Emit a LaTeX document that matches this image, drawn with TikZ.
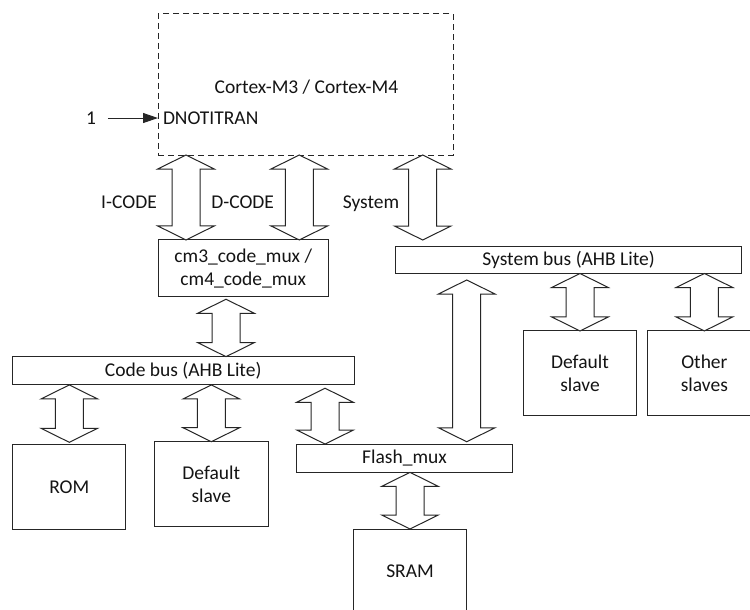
\documentclass[tikz,border=0pt]{standalone}
\usepackage{fontspec}
\setmainfont{Carlito}
\usetikzlibrary{calc,arrows.meta}
\definecolor{linec}{RGB}{38,38,38}
\definecolor{txtc}{RGB}{20,20,20}
\tikzset{
  box/.style={draw=linec, line width=1pt, rectangle, outer sep=0pt, inner sep=0pt,
    align=center, text=txtc, font=\fontsize{19.5pt}{23pt}\selectfont},
  lbl/.style={inner sep=0pt, outer sep=0pt, text=txtc, anchor=base,
    font=\fontsize{19.5pt}{23pt}\selectfont},
  busarr/.style={draw=linec, line width=1pt, fill=white, line join=miter},
  sigarr/.style={draw=linec, line width=1pt, -{Triangle[length=15pt,width=10pt]}},
  cpu/.style={box, dash pattern=on 6pt off 4pt},
}
% hollow double-headed bus arrow: x and top from #1, bottom from #2
\newcommand\bigarrow[2]{%
  \draw[busarr] let \p1=#1, \p2=#2 in
    (\x1,\y1) -- ++(28.3pt,-14pt) -- ++(-14.3pt,0pt)
    -- (\x1+14pt,\y2+14pt) -- ++(14.3pt,0pt) -- (\x1,\y2)
    -- ++(-28.3pt,14pt) -- ++(14.3pt,0pt)
    -- (\x1-14pt,\y1-14pt) -- ++(-14.3pt,0pt) -- cycle;}
\begin{document}
\begin{tikzpicture}[x=1pt,y=-1pt]
\useasboundingbox (0,0) rectangle (750,610);
\clip (0,0) rectangle (750,610);
\fill[white] (0,0) rectangle (750,610);

% processor
\node[cpu, minimum width=295pt, minimum height=141pt] (cortex) at (305.5,84.5) {};
\node[lbl] (ctitle) at (306.5,93) {Cortex-M3 / Cortex-M4};
\node[lbl, anchor=base west] (dnot) at (163,124.3) {DNOTITRAN};
\node[lbl] (one) at (91,124.3) {1};
\draw[sigarr, shorten <=12pt] (one.east) -- (one.east -| cortex.west);

% bus labels
\node[lbl] (licode) at (129,208) {I-CODE};
\node[lbl] (ldcode) at (242.7,208) {D-CODE};
\node[lbl] (lsys) at (371,208) {System};

% boxes
\node[box, minimum width=170pt, minimum height=56.7pt] (cm3mux) at (243.3,268.3)
  {cm3\_code\_mux /\\cm4\_code\_mux};
\node[box, minimum width=341.7pt, minimum height=28.3pt] (codebus) at (183.2,370.8)
  {Code bus (AHB Lite)};
\node[box, minimum width=346.2pt, minimum height=26.8pt] (sysbus) at (568.6,260.1)
  {System bus (AHB Lite)};
\node[box, minimum width=113.3pt, minimum height=85pt] (rom) at (69.3,486.8) {ROM};
\node[box, minimum width=114pt, minimum height=85pt] (cdef) at (211.3,484.2)
  {Default\\slave};
\node[box, minimum width=215.6pt, minimum height=28.3pt] (flash) at (404.5,458.2)
  {Flash\_mux};
\node[box, minimum width=113.4pt, minimum height=85pt] (sram) at (410,571.5) {SRAM};
\node[box, minimum width=113.4pt, minimum height=84.7pt] (sdef) at (580,373.3)
  {Default\\slave};
\node[box, minimum width=113.4pt, minimum height=84.7pt] (other) at (704.4,373.3)
  {Other\\slaves};

% bus arrows
\bigarrow{([xshift=28pt]cortex.south west)}{(cm3mux.north)}
\bigarrow{([xshift=141.3pt]cortex.south west)}{(cm3mux.north)}
\bigarrow{([xshift=-30.3pt]cortex.south east)}{([yshift=6.7pt]sysbus.north)}
\bigarrow{([xshift=-17.3pt,yshift=-2.6pt]cm3mux.south)}{(codebus.north)}
\bigarrow{(rom.north |- codebus.south)}{([yshift=2pt]rom.north)}
\bigarrow{(cdef.north |- codebus.south)}{(cdef.north)}
\bigarrow{($(codebus.south east)+(-29pt,-3.3pt)$)}{(flash.north)}
\bigarrow{($(sysbus.south -| flash.north east)+(-45.6pt,-6.5pt)$)}{([yshift=2.3pt]flash.north)}
\bigarrow{(sdef.north |- sysbus.south)}{(sdef.north)}
\bigarrow{(other.north |- sysbus.south)}{(other.north)}
\bigarrow{(sram.north |- flash.south)}{(sram.north)}
\end{tikzpicture}
\end{document}
